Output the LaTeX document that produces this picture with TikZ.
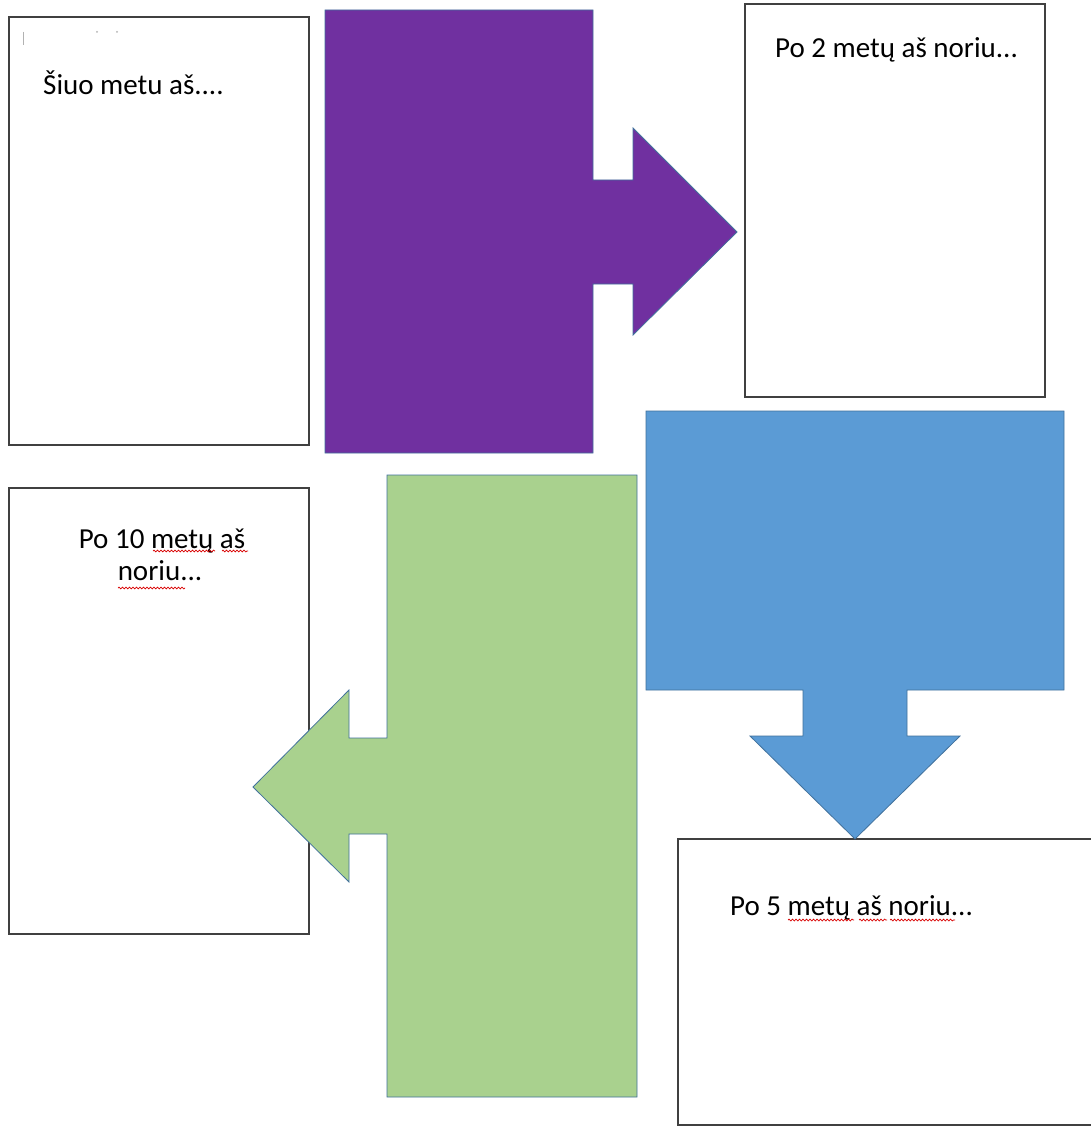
\documentclass[tikz,border=0pt]{standalone}
\usepackage{fontspec}
\setmainfont{Carlito}
\usetikzlibrary{decorations.pathmorphing}
\definecolor{purp}{HTML}{7030A0}
\definecolor{bluea}{HTML}{5B9BD5}
\definecolor{greena}{HTML}{A9D18E}
\definecolor{edgeb}{HTML}{41719C}
\definecolor{boxline}{HTML}{404040}
\tikzset{
  card/.style={draw=boxline, line width=1.4pt, fill=white},
  bigarrow/.style={draw=edgeb, line width=0.8pt},
  label/.style={inner sep=0pt, font=\fontsize{29}{32}\selectfont, text=black},
  squig/.style={draw=red!85!black, line width=0.7pt, decorate,
    decoration={snake, amplitude=0.9pt, segment length=3.5pt}}
}
\begin{document}
\begin{tikzpicture}[x=1pt,y=-1pt]
\useasboundingbox (0,0) rectangle (1091,1126);
\fill[white] (0,0) rectangle (1091,1126);
% boxes
\draw[card] (9,17) rectangle (309,445);
\draw[card] (745,4) rectangle (1045,397);
\draw[card] (9,488) rectangle (309,934);
\draw[card] (678,839) rectangle (1095,1125);
% faint marks in first box
\draw[gray!60, line width=0.8pt] (23,32) -- (23,45);
\fill[gray!60] (97,32) circle (1pt) (117,32) circle (1pt);
% texts
\node[label, anchor=base west] (t1) at (43,95) {Šiuo metu aš....};
\node[label, anchor=base west] (t2) at (775,58) {Po 2 metų aš noriu...};
\node[label, anchor=base] (t3a) at (162,548) {Po 10 metų aš};
\node[label, anchor=base] (t3b) at (160,580) {noriu...};
\node[label, anchor=base west] (t4) at (730,915) {Po 5 metų aš noriu...};
% spelling squiggles
\draw[squig] (153,551) -- (215,551);
\draw[squig] (222,551) -- (248,551);
\draw[squig] (118,588) -- (185,588);
\draw[squig] (788,920) -- (854,920);
\draw[squig] (859,920) -- (887,920);
\draw[squig] (890,920) -- (955,920);
% purple arrow (right)
\draw[bigarrow, fill=purp] (325,10) -- (593,10) -- (593,180) -- (633,180) -- (633,128)
  -- (737,232) -- (633,335) -- (633,284) -- (593,284) -- (593,453) -- (325,453) -- cycle;
% blue arrow (down)
\draw[bigarrow, fill=bluea] (646,411) -- (1064,411) -- (1064,690) -- (907,690) -- (907,736)
  -- (960,736) -- (855,839) -- (750,736) -- (803,736) -- (803,690) -- (646,690) -- cycle;
% green arrow (left)
\draw[bigarrow, fill=greena] (387,475) -- (637,475) -- (637,1097) -- (387,1097) -- (387,834)
  -- (349,834) -- (349,882) -- (253,787) -- (349,690) -- (349,738) -- (387,738) -- cycle;
\end{tikzpicture}
\end{document}
